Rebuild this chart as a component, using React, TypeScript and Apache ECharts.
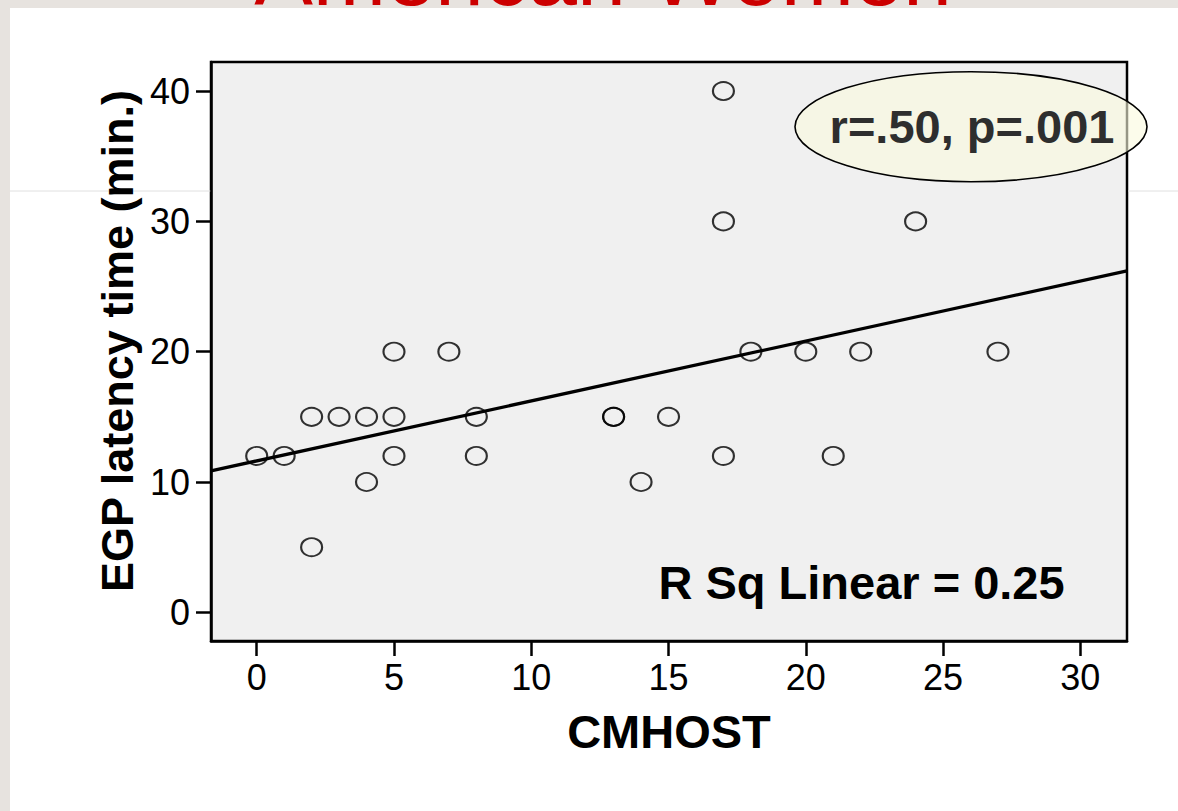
import React, { useEffect, useRef } from "react";
import * as echarts from "echarts";

const xValues = [0, 1, 2, 2, 3, 4, 4, 5, 5, 5, 7, 8, 8, 13, 13, 14, 15, 17, 17, 17, 18, 20, 21, 22, 24, 27];
const yValues = [12, 12, 15, 5, 15, 15, 10, 20, 15, 12, 20, 15, 12, 15, 15, 10, 15, 40, 30, 12, 20, 20, 12, 20, 30, 20];
const xTicks = [0, 5, 10, 15, 20, 25, 30];
const yTicks = [0, 10, 20, 30, 40];
const xRange = [-1.665, 31.7];
const yRange = [-2.2, 42.23];
const fitIntercept = 11.62;
const fitSlope = 0.46;
const titleText = "American Women";
const xName = "CMHOST";
const yName = "EGP latency time (min.)";
const statText = "r=.50, p=.001";
const rsqText = "R Sq Linear = 0.25";

export default function App() {
  const ref = useRef<HTMLDivElement>(null);
  useEffect(() => {
    if (!ref.current) return;
    const chart = echarts.init(ref.current, null, { renderer: "svg" });
    const points = xValues.map((x, i) => [x, yValues[i]]);
    const fit = xRange.map((x) => [x, fitIntercept + fitSlope * x]);
    const sans = "'Liberation Sans', Arial, sans-serif";
    chart.setOption({
      animation: false,
      backgroundColor: "#ffffff",
      grid: {
        left: 211,
        top: 62,
        width: 916,
        height: 579,
        show: true,
        backgroundColor: "#f0f0f0",
        borderColor: "#000",
        borderWidth: 2.5,
        containLabel: false,
      },
      xAxis: {
        type: "value",
        min: xRange[0],
        max: xRange[1],
        axisLine: { show: true, onZero: false, lineStyle: { color: "#000", width: 2.5 } },
        axisTick: { show: true, length: 15, customValues: xTicks, lineStyle: { color: "#000", width: 2.5 } },
        axisLabel: {
          customValues: xTicks,
          margin: 18,
          fontSize: 36,
          fontFamily: sans,
          color: "#000",
        },
        splitLine: { show: false },
      },
      yAxis: {
        type: "value",
        min: yRange[0],
        max: yRange[1],
        axisLine: { show: true, onZero: false, lineStyle: { color: "#000", width: 2.5 } },
        axisTick: { show: true, length: 15, customValues: yTicks, lineStyle: { color: "#000", width: 2.5 } },
        axisLabel: {
          customValues: yTicks,
          margin: 21,
          fontSize: 36,
          fontFamily: sans,
          color: "#000",
        },
        splitLine: { show: false },
      },
      series: [
        {
          type: "scatter",
          data: points,
          symbol: "circle",
          symbolSize: [21, 18],
          itemStyle: { color: "rgba(0,0,0,0)", borderColor: "#000", borderWidth: 2 },
          z: 3,
        },
        {
          type: "line",
          data: fit,
          showSymbol: false,
          symbol: "none",
          lineStyle: { color: "#000", width: 3.3 },
          z: 4,
        },
      ],
      graphic: [
        { type: "rect", z: 0, shape: { x: 0, y: 0, width: 1178, height: 8 }, style: { fill: "#e7e3df" } },
        { type: "rect", z: 0, shape: { x: 0, y: 0, width: 10, height: 811 }, style: { fill: "#e7e3df" } },
        {
          type: "text",
          x: 603,
          y: -26,
          style: {
            text: titleText,
            fontSize: 88,
            fontFamily: sans,
            fill: "#cc0000",
            align: "center",
            verticalAlign: "middle",
          },
        },
        { type: "line", shape: { x1: 10, y1: 191, x2: 211, y2: 191 }, style: { stroke: "#e0e0e0", lineWidth: 1 } },
        { type: "line", shape: { x1: 1128, y1: 191, x2: 1178, y2: 191 }, style: { stroke: "#e0e0e0", lineWidth: 1 } },
        {
          type: "ellipse",
          z: 10,
          shape: { cx: 971, cy: 126.7, rx: 176, ry: 55 },
          style: { fill: "rgba(250,250,222,0.6)", stroke: "#000", lineWidth: 1.6 },
        },
        {
          type: "text",
          z: 11,
          x: 972,
          y: 126,
          style: {
            text: statText,
            fontSize: 47,
            fontWeight: "bold",
            fontFamily: sans,
            fill: "#2e2e2e",
            align: "center",
            verticalAlign: "middle",
          },
        },
        {
          type: "text",
          z: 11,
          x: 861.5,
          y: 582,
          style: {
            text: rsqText,
            fontSize: 47,
            fontWeight: "bold",
            fontFamily: sans,
            fill: "#000",
            align: "center",
            verticalAlign: "middle",
          },
        },
        {
          type: "text",
          x: 669,
          y: 731,
          style: {
            text: xName,
            fontSize: 47,
            fontWeight: "bold",
            fontFamily: sans,
            fill: "#000",
            align: "center",
            verticalAlign: "middle",
          },
        },
        {
          type: "text",
          x: 117,
          y: 341,
          rotation: Math.PI / 2,
          style: {
            text: yName,
            fontSize: 45,
            fontWeight: "bold",
            fontFamily: sans,
            fill: "#000",
            align: "center",
            verticalAlign: "middle",
          },
        },
      ],
    });
    return () => chart.dispose();
  }, []);
  return (
    <div
      ref={ref}
      style={{ position: "absolute", left: 0, top: 0, width: 1178, height: 811, background: "#fff" }}
    />
  );
}
